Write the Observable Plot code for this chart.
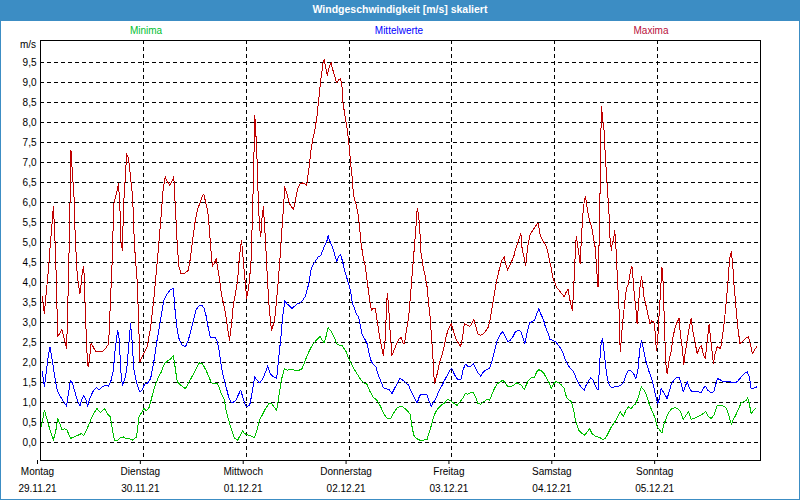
<!DOCTYPE html>
<html><head><meta charset="utf-8">
<script src="https://cdn.jsdelivr.net/npm/d3@7"></script>
<script src="https://cdn.jsdelivr.net/npm/@observablehq/plot@0.6"></script>
<style>
html,body{margin:0;padding:0;background:#fff;}
#wrap{position:relative;width:800px;height:500px;overflow:hidden;font-family:"Liberation Sans",Arial,sans-serif;background:#fff;}
#title{position:absolute;left:0;top:0;width:800px;height:21px;background:#3c8dc4;color:#fff;font-weight:bold;font-size:10.5px;line-height:19px;text-align:center;}
#border{position:absolute;left:0;top:0;width:800px;height:500px;box-sizing:border-box;border:1px solid #3c8dc4;pointer-events:none;}
.leg{position:absolute;top:25px;font-size:10px;line-height:12px;transform:translateX(-50%);white-space:nowrap;}
#unit{position:absolute;left:0;width:36px;text-align:right;top:39px;font-size:10px;line-height:12px;color:#000;}
#chart{position:absolute;left:0;top:20px;}
</style></head>
<body>
<div id="wrap">
  <div id="title"></div>
  <div id="unit"></div>
  <div id="legend"></div>
  <div id="chart"></div>
  <div id="border"></div>
</div>
<script>
const titleText = "Windgeschwindigkeit [m/s] skaliert";
const unitText = "m/s";
const legendLabels = ["Minima", "Mittelwerte", "Maxima"];
const legendColors = ["#00c030", "#0000ff", "#b8103c"];
const legendLeft = [146, 399, 651];
const dayNames = ["Montag","Dienstag","Mittwoch","Donnerstag","Freitag","Samstag","Sonntag"];
const dayDates = ["29.11.21","30.11.21","01.12.21","02.12.21","03.12.21","04.12.21","05.12.21"];
const dayTicks = [0, 24, 48, 72, 96, 120, 144];
const yTicks = [0,0.5,1,1.5,2,2.5,3,3.5,4,4.5,5,5.5,6,6.5,7,7.5,8,8.5,9,9.5];

// [hour since Monday 00:00, m/s]
const maxima = [[0.4,3.64],[0.9,3.22],[1.4,3.81],[1.9,4.39],[2.3,4.97],[2.7,5.47],[3.0,5.89],[3.3,5.3],[3.7,4.06],[4.0,2.64],[4.5,2.73],[5.0,2.82],[5.6,2.56],[6.1,2.35],[6.5,3.97],[6.8,5.47],[7.1,7.31],[7.3,6.97],[7.5,6.64],[7.8,6.22],[8.1,5.14],[8.6,4.14],[9.2,3.72],[9.5,3.97],[9.8,4.31],[10.1,4.39],[10.4,3.47],[10.8,2.31],[11.1,1.89],[11.4,2.06],[11.8,2.47],[12.3,2.39],[12.9,2.27],[13.6,2.27],[14.4,2.27],[15.2,2.35],[15.9,2.47],[16.3,3.47],[16.7,4.47],[17.1,5.97],[17.5,6.14],[17.9,6.31],[18.2,6.47],[18.5,5.97],[18.8,4.97],[19.1,4.81],[19.4,5.97],[19.8,6.64],[20.1,7.22],[20.4,7.14],[20.7,6.97],[21.0,6.64],[21.5,6.14],[21.9,4.97],[22.6,3.97],[23.2,2.02],[23.7,2.14],[24.3,2.27],[24.9,2.39],[25.7,2.89],[26.5,3.64],[27.2,4.47],[28.0,5.47],[28.6,6.31],[29.1,6.64],[29.6,6.52],[30.2,6.43],[30.8,6.56],[31.1,6.64],[31.5,5.81],[31.9,4.97],[32.3,4.39],[32.8,4.22],[33.8,4.24],
[34.5,4.31],[34.9,4.56],[35.4,4.97],[36.0,5.47],[36.6,5.81],[37.3,6.02],[37.7,6.14],[38.1,6.21],[38.5,6.02],[39.0,5.81],[39.3,5.47],[39.7,4.89],[40.1,4.41],[40.5,4.47],[41.0,4.6],[41.3,4.39],[41.8,4.06],[42.2,3.72],[42.7,3.47],[43.2,3.22],[43.6,2.89],[44.1,2.56],[44.6,2.97],[45.0,3.47],[45.5,3.72],[46.0,4.06],[46.4,4.64],[46.9,5.06],[47.2,4.72],[47.5,4.31],[47.8,3.97],[48.1,3.6],[48.6,3.89],[49.1,4.47],[49.4,5.47],[49.7,6.64],[50.0,8.18],[50.2,7.85],[50.5,7.14],[50.8,6.14],[51.1,5.39],[51.4,5.14],[51.7,5.64],[52.0,5.89],[52.3,5.39],[52.7,4.64],[53.0,3.97],[53.4,3.31],[53.9,2.81],[54.4,2.97],[54.8,3.22],[55.3,3.81],[55.8,4.47],[56.2,5.14],[56.7,5.89],[57.0,6.39],[57.5,6.22],[58.1,5.97],[58.6,5.89],[59.0,5.82],[59.5,6.06],[60.0,6.35],[60.6,6.47],[61.2,6.49],[61.7,6.46],[62.1,6.43],[62.6,6.81],[63.1,7.31],[63.5,7.56],[64.0,7.81],[64.5,8.14],[64.9,8.56],[65.4,9.06],[65.9,9.47],[66.2,9.57],[66.5,9.41],[66.9,9.18],[67.4,9.4],[67.8,9.5],
[68.1,9.35],[68.6,9.18],[69.1,8.99],[69.5,9.06],[70.0,9.1],[70.3,8.97],[70.6,8.47],[71.1,8.14],[71.6,7.81],[72.0,7.43],[72.3,7.06],[72.7,6.64],[73.0,6.22],[73.3,6.06],[73.7,5.93],[74.2,5.64],[74.5,5.31],[74.8,4.97],[75.3,4.64],[75.8,4.39],[76.2,4.06],[76.7,3.64],[77.2,3.31],[77.6,3.35],[78.1,3.35],[78.6,3.02],[79.0,2.72],[79.5,2.43],[80.0,2.18],[80.4,2.56],[80.9,3.72],[81.2,3.47],[81.5,2.89],[82.0,2.18],[82.5,2.31],[83.1,2.47],[83.7,2.6],[84.2,2.62],[84.6,2.49],[84.9,2.47],[85.4,2.81],[85.9,3.14],[86.3,3.64],[86.8,4.31],[87.3,4.97],[87.6,5.39],[87.9,5.85],[88.2,5.72],[88.5,5.31],[88.8,4.72],[89.3,4.39],[89.8,4.14],[90.2,3.89],[90.5,3.56],[90.9,3.14],[91.3,2.56],[91.6,2.06],[91.9,1.47],[92.4,1.64],[92.9,1.89],[93.3,2.06],[94.0,2.31],[94.6,2.64],[95.1,2.81],[95.5,2.89],[95.8,2.97],[96.3,2.81],[96.9,2.6],[98.0,2.39],[98.5,2.64],[98.9,2.97],[99.6,2.93],[100.2,2.9],[100.7,2.99],[101.1,3.07],[101.5,2.93],
[102.0,2.72],[102.6,2.68],[103.2,2.71],[103.8,2.77],[104.5,2.89],[104.9,3.06],[105.4,3.39],[105.9,3.72],[106.3,3.97],[106.8,4.22],[107.3,4.43],[107.7,4.56],[108.2,4.64],[108.5,4.47],[109.0,4.31],[109.4,4.41],[109.9,4.52],[110.4,4.64],[110.8,4.81],[111.3,4.97],[111.8,5.14],[112.1,5.22],[112.4,4.81],[112.9,4.6],[113.2,4.43],[113.5,4.72],[113.8,4.97],[114.3,5.22],[114.9,5.31],[115.5,5.41],[116.1,5.49],[116.6,5.18],[117.1,5.06],[117.7,4.97],[118.1,4.89],[118.6,4.64],[119.1,4.39],[119.5,4.14],[120.0,3.99],[120.5,3.87],[121.1,3.79],[121.7,3.71],[122.2,3.64],[122.7,3.77],[123.1,3.83],[123.6,3.52],[124.1,3.31],[124.4,3.81],[124.7,4.56],[125.0,5.14],[125.3,4.97],[125.6,4.72],[125.9,4.47],[126.2,5.06],[126.5,5.64],[126.9,6.06],[127.2,6.14],[127.6,5.81],[128.1,5.56],[128.6,5.39],[129.0,5.14],[129.4,4.89],[129.7,4.47],[130.0,3.97],[130.1,3.89],[130.3,4.81],[130.6,6.47],[130.7,7.47],[130.9,8.39],[131.2,8.06],[131.5,7.81],[131.8,7.14],[132.1,6.64],[132.5,5.97],[132.8,5.47],[132.9,5.06],[133.2,4.81],[133.4,4.97],[133.7,5.06],[134.0,5.31],[134.3,4.81],[134.6,4.14],[135.0,3.31],[135.2,2.47],[135.3,2.27],
[135.8,2.97],[136.3,3.47],[136.7,3.85],[137.2,3.97],[137.7,4.31],[138.0,4.41],[138.3,4.06],[138.6,3.64],[138.9,3.39],[139.2,2.97],[139.5,3.39],[139.8,3.81],[140.2,4.14],[140.5,3.97],[140.8,3.64],[141.2,3.47],[141.7,3.22],[142.2,2.97],[142.6,3.04],[143.1,3.02],[143.4,2.77],[143.7,2.31],[144.0,2.56],[144.4,3.31],[144.7,3.81],[145.0,4.39],[145.3,3.97],[145.6,2.89],[145.9,1.97],[146.2,1.72],[146.7,2.06],[147.2,2.31],[147.6,2.64],[148.1,2.89],[148.6,3.02],[149.0,3.1],[149.3,2.72],[149.8,2.31],[150.1,1.94],[150.4,2.22],[150.9,2.56],[151.4,2.89],[151.8,3.1],[152.3,2.72],[152.8,2.47],[153.2,2.22],[153.7,2.35],[154.2,2.43],[154.6,2.22],[155.1,2.1],[155.6,2.56],[156.0,2.96],[156.5,2.47],[157.0,1.97],[157.4,2.22],[157.9,2.39],[158.7,2.35],[159.1,2.64],[159.6,3.06],[160.1,3.64],[160.5,4.14],[160.8,4.6],[161.2,4.77],[161.5,4.47],[161.8,3.97],[162.2,3.47],[162.7,2.89],[163.2,2.47],[163.6,2.51],[164.1,2.56],[164.7,2.62],[165.2,2.64],[165.7,2.43],[166.1,2.22],[166.6,2.31],[167.1,2.39]];

const mittel = [[0.4,1.77],[0.9,1.39],[1.4,1.81],[1.9,2.22],[2.2,2.39],[2.6,2.14],[3.1,1.81],[3.6,1.47],[4.0,1.27],[4.7,1.14],[5.4,1.02],[6.1,0.91],[6.5,1.22],[7.0,1.56],[7.5,1.47],[7.9,1.31],[8.6,1.06],[9.2,0.91],[9.6,1.06],[10.1,1.18],[10.6,1.06],[11.0,0.91],[11.5,1.1],[12.0,1.22],[12.4,1.31],[13.1,1.37],[13.6,1.31],[14.4,1.39],[15.2,1.43],[15.9,1.41],[16.5,1.56],[17.0,1.81],[17.4,2.31],[17.7,2.56],[18.0,2.81],[18.4,2.56],[18.7,1.81],[19.1,1.43],[19.6,1.56],[20.1,1.81],[20.5,2.31],[21.0,2.97],[21.3,2.64],[21.8,1.81],[22.3,1.56],[22.7,1.39],[23.2,1.27],[23.7,1.31],[24.3,1.46],[24.9,1.47],[25.7,1.6],[26.5,2.06],[27.2,2.56],[28.0,3.06],[28.8,3.56],[29.6,3.72],[30.2,3.81],[31.0,3.85],[31.4,3.31],[31.9,2.81],[32.4,2.56],[33.1,2.43],[33.8,2.39],
[34.5,2.56],[35.1,2.81],[35.7,3.06],[36.3,3.31],[36.9,3.41],[37.7,3.43],[38.2,3.35],[38.7,3.14],[39.1,2.89],[39.6,2.64],[40.2,2.62],[40.8,2.62],[41.3,2.52],[41.8,2.22],[42.2,1.89],[42.7,1.64],[43.3,1.39],[43.9,1.14],[44.6,0.99],[45.2,1.02],[45.7,1.07],[46.1,1.18],[46.7,1.31],[47.2,1.14],[47.7,0.97],[48.1,0.89],[48.8,0.93],[49.2,1.14],[49.7,1.47],[50.0,1.64],[50.5,1.56],[51.1,1.49],[51.7,1.56],[52.2,1.68],[52.7,1.81],[53.0,1.93],[53.4,1.77],[53.9,1.68],[54.5,1.64],[55.1,1.6],[55.6,2.14],[56.1,2.64],[56.5,3.14],[57.0,3.54],[57.5,3.47],[58.1,3.41],[58.7,3.35],[59.3,3.41],[60.0,3.47],[60.6,3.49],[61.2,3.56],[61.7,3.64],[62.1,3.77],[62.6,3.97],[63.1,4.31],[63.5,4.43],[64.2,4.54],[64.8,4.64],[65.4,4.68],[65.9,4.81],[66.3,4.93],[66.8,5.02],[67.1,5.18],[67.4,5.06],
[68.1,4.89],[68.6,4.72],[69.1,4.52],[69.5,4.64],[70.0,4.71],[70.5,4.52],[70.9,4.31],[71.4,4.14],[71.9,3.97],[72.3,3.81],[72.8,3.47],[73.3,3.35],[73.7,3.22],[74.2,3.14],[74.7,2.89],[75.1,2.68],[75.8,2.56],[76.2,2.47],[76.7,2.22],[77.2,2.02],[77.6,1.96],[78.3,1.89],[78.7,1.72],[79.3,1.56],[80.0,1.37],[80.6,1.35],[81.4,1.32],[82.0,1.22],[82.6,1.35],[83.2,1.47],[83.9,1.6],[84.5,1.56],[85.3,1.49],[85.9,1.43],[86.5,1.27],[87.1,1.14],[87.9,0.99],[88.5,1.18],[89.1,1.21],[90.1,1.21],[90.7,1.02],[91.2,0.91],[91.8,1.02],[92.4,1.14],[93.0,1.29],[93.7,1.43],[94.3,1.56],[94.9,1.68],[95.5,1.81],[96.0,1.85],[96.5,1.72],[97.1,1.6],[97.7,1.56],[98.2,1.6],[98.6,1.81],[99.1,1.96],[99.7,1.91],[100.3,1.89],[101.0,1.97],[101.5,1.87],
[102.1,1.74],[102.7,1.66],[103.4,1.77],[104.0,1.82],[104.8,1.85],[105.4,2.06],[106.0,2.31],[106.6,2.56],[107.3,2.71],[107.9,2.77],[108.5,2.64],[109.1,2.52],[109.6,2.56],[110.2,2.64],[110.8,2.77],[111.5,2.81],[112.1,2.77],[112.5,2.64],[113.0,2.47],[113.5,2.72],[114.1,2.99],[114.7,3.02],[115.3,3.06],[115.8,3.22],[116.3,3.35],[116.7,3.22],[117.4,3.06],[117.8,2.89],[118.5,2.72],[118.9,2.57],[119.5,2.56],[120.2,2.52],[120.8,2.43],[121.4,2.35],[122.0,2.22],[122.5,2.06],[123.1,1.93],[123.7,1.85],[124.4,1.77],[125.0,1.6],[125.6,1.47],[126.2,1.37],[126.9,1.31],[127.3,1.43],[128.0,1.56],[128.4,1.62],[128.9,1.56],[129.4,1.43],[129.8,1.35],[130.1,1.31],[130.4,1.81],[130.7,2.39],[131.1,2.6],[131.4,2.39],[131.8,1.97],[132.3,1.56],[132.8,1.43],[133.2,1.37],[133.9,1.39],[134.5,1.39],[135.3,1.43],
[136.0,1.49],[136.6,1.68],[137.2,1.81],[137.8,1.79],[138.4,1.72],[138.9,1.6],[139.4,1.81],[139.8,2.31],[140.2,2.54],[140.5,2.43],[140.9,2.22],[141.4,1.97],[142.0,1.77],[142.6,1.6],[143.1,1.39],[143.6,1.14],[144.0,0.97],[144.4,1.1],[144.8,1.35],[145.3,1.27],[145.8,1.18],[146.2,1.1],[146.7,1.27],[147.2,1.47],[147.8,1.56],[148.4,1.62],[149.0,1.62],[149.5,1.47],[150.0,1.27],[150.4,1.39],[150.9,1.52],[151.4,1.35],[152.0,1.27],[152.8,1.27],[153.5,1.27],[154.2,1.24],[154.6,1.35],[155.1,1.41],[155.7,1.31],[156.5,1.24],[157.1,1.27],[157.6,1.47],[158.0,1.6],[158.7,1.56],[159.4,1.52],[160.7,1.52],[161.9,1.49],[162.6,1.52],[163.2,1.6],[163.8,1.68],[164.4,1.74],[164.9,1.77],[165.4,1.64],[165.8,1.35],[166.3,1.35],[167.1,1.39]];

const minima = [[0.2,0.39],[0.9,0.81],[1.6,0.56],[2.2,0.31],[3.0,0.06],[3.6,0.31],[4.0,0.6],[4.5,0.47],[5.0,0.31],[5.6,0.35],[6.2,0.31],[7.0,0.1],[7.8,0.14],[8.7,0.18],[9.5,0.22],[10.1,0.18],[10.9,0.35],[11.7,0.56],[12.4,0.72],[13.2,0.85],[14.0,0.74],[14.9,0.85],[15.6,0.72],[16.3,0.64],[16.8,0.31],[17.3,0.04],[18.0,0.06],[18.7,0.12],[19.3,0.14],[19.9,0.1],[20.7,0.1],[21.5,0.06],[22.4,0.14],[23.0,0.64],[23.7,0.77],[24.1,0.85],[24.7,0.79],[25.4,0.89],[26.0,1.14],[26.6,1.39],[27.4,1.6],[28.2,1.77],[28.9,1.97],[29.7,2.04],[30.5,2.1],[31.0,2.18],[31.4,1.89],[31.9,1.52],[32.7,1.43],[33.8,1.35],
[34.5,1.47],[35.1,1.6],[35.7,1.71],[36.2,1.81],[36.6,1.91],[37.1,1.99],[37.7,1.97],[38.2,1.89],[38.7,1.79],[39.3,1.64],[39.9,1.49],[40.7,1.47],[41.3,1.47],[41.8,1.35],[42.2,1.22],[42.9,1.06],[43.3,0.81],[43.9,0.56],[44.6,0.31],[45.2,0.12],[46.0,0.06],[46.6,0.18],[47.1,0.29],[47.7,0.22],[48.5,0.18],[49.1,0.16],[49.9,0.12],[50.5,0.31],[51.1,0.56],[51.9,0.72],[52.5,0.85],[53.3,0.97],[53.9,0.97],[54.5,0.89],[55.1,0.79],[55.6,1.14],[56.2,1.56],[56.9,1.85],[57.6,1.81],[58.4,1.82],[59.3,1.81],[60.3,1.81],[60.9,1.82],[61.5,1.97],[62.1,2.14],[62.8,2.31],[63.4,2.43],[64.2,2.54],[64.8,2.6],[65.3,2.66],[65.7,2.56],[66.2,2.49],[66.7,2.68],[67.1,2.87],[67.7,2.8],
[68.1,2.72],[68.6,2.62],[69.1,2.47],[69.7,2.43],[70.3,2.43],[70.8,2.35],[71.3,2.27],[71.9,2.1],[72.5,1.97],[73.3,1.81],[74.1,1.68],[74.8,1.56],[75.5,1.49],[76.1,1.47],[76.9,1.27],[77.6,1.14],[78.6,1.04],[79.3,0.91],[80.1,0.72],[80.9,0.6],[81.7,0.6],[82.3,0.72],[83.1,0.85],[83.9,0.91],[84.6,0.89],[85.4,0.81],[86.2,0.72],[86.7,0.39],[87.1,0.18],[87.7,0.1],[88.5,0.06],[89.5,0.06],[90.2,0.08],[90.9,0.31],[91.5,0.56],[92.1,0.74],[92.7,0.85],[93.5,0.93],[94.3,0.99],[94.9,1.07],[95.4,1.06],[96.0,1.02],[96.6,0.97],[97.2,0.93],[97.9,1.02],[98.5,1.1],[99.1,1.22],[99.7,1.21],[100.3,1.24],[101.0,1.24],[101.5,1.14],
[102.1,0.97],[102.7,0.96],[103.4,1.02],[104.1,1.07],[104.8,1.06],[105.4,1.22],[106.0,1.37],[106.6,1.47],[107.3,1.52],[107.9,1.56],[108.5,1.47],[109.1,1.39],[109.7,1.39],[110.4,1.43],[111.0,1.49],[111.6,1.47],[112.2,1.43],[112.9,1.32],[113.3,1.43],[113.9,1.56],[114.6,1.62],[115.2,1.62],[115.8,1.77],[116.3,1.82],[116.9,1.79],[117.5,1.72],[118.1,1.6],[118.8,1.47],[119.2,1.35],[119.7,1.47],[120.3,1.52],[121.0,1.49],[121.6,1.43],[122.2,1.35],[122.7,1.14],[123.3,1.06],[123.9,1.02],[124.4,0.81],[124.8,0.56],[125.6,0.31],[126.2,0.24],[127.0,0.18],[127.6,0.27],[128.1,0.35],[128.7,0.22],[129.4,0.16],[130.0,0.14],[130.6,0.12],[131.2,0.07],[131.8,0.1],[132.5,0.24],[133.1,0.37],[133.7,0.47],[134.3,0.56],[134.8,0.68],[135.3,0.77],
[136.0,0.64],[136.6,0.81],[137.2,0.89],[137.8,0.85],[138.4,0.93],[138.9,0.97],[139.5,1.14],[140.2,1.39],[140.8,1.31],[141.4,1.18],[142.0,0.97],[142.6,0.81],[143.3,0.64],[143.9,0.39],[144.5,0.31],[145.0,0.24],[145.4,0.43],[146.1,0.64],[146.7,0.77],[147.3,0.85],[148.1,0.87],[148.7,0.85],[149.3,0.77],[150.0,0.58],[150.6,0.68],[151.2,0.77],[151.8,0.58],[152.4,0.6],[153.2,0.64],[154.0,0.68],[154.6,0.72],[155.2,0.77],[155.9,0.64],[156.5,0.6],[157.1,0.68],[157.9,0.93],[158.7,0.93],[159.4,0.91],[160.1,0.85],[160.7,0.64],[161.2,0.45],[161.6,0.56],[162.2,0.68],[162.9,0.85],[163.5,0.99],[164.1,1.02],[164.7,1.06],[165.0,1.12],[165.4,0.97],[165.8,0.72],[166.3,0.79],[166.9,0.85]];

const lineColors = {minima: "#00c000", mittel: "#0000ff", maxima: "#c00000"};

document.getElementById("title").textContent = titleText;
document.getElementById("unit").textContent = unitText;
const legend = document.getElementById("legend");
legendLabels.forEach((t, i) => {
  const s = document.createElement("span");
  s.className = "leg";
  s.textContent = t;
  s.style.color = legendColors[i];
  s.style.left = legendLeft[i] + "px";
  legend.appendChild(s);
});

const toRows = arr => arr.map(([h, v]) => ({h, v}));
const fmtY = d => d.toFixed(1).replace(".", ",");
const dash = "4,3";

const chart = Plot.plot({
  width: 800,
  height: 480,
  marginLeft: 40,
  marginRight: 40,
  marginTop: 20,
  marginBottom: 40,
  x: {type: "linear", domain: [0, 168], axis: null, label: null},
  y: {type: "linear", domain: [-0.45, 10.05], axis: null, label: null},
  style: {fontFamily: "'Liberation Sans', Arial, sans-serif", fontSize: "10px", color: "#000", background: "transparent", overflow: "visible"},
  marks: [
    Plot.gridY(yTicks, {stroke: "#000", strokeOpacity: 1, strokeDasharray: dash, shapeRendering: "crispEdges"}),
    Plot.gridX(dayTicks.slice(1), {stroke: "#000", strokeOpacity: 1, strokeDasharray: dash, shapeRendering: "crispEdges"}),
    Plot.axisY(yTicks, {anchor: "left", label: null, tickSize: 0, tickPadding: 4, tickFormat: fmtY, fill: "#000"}),
    Plot.axisX(dayTicks, {anchor: "bottom", label: null, tickSize: 4, tickPadding: 3, dx: -3, tickFormat: d => dayNames[d / 24], fill: "#000", stroke: "#000"}),
    Plot.axisX(dayTicks, {anchor: "bottom", label: null, tickSize: 0, tickPadding: 24, dx: -3, tickFormat: d => dayDates[d / 24], fill: "#000"}),
    Plot.line(toRows(minima), {x: "h", y: "v", stroke: lineColors.minima, strokeWidth: 1, shapeRendering: "crispEdges"}),
    Plot.line(toRows(mittel), {x: "h", y: "v", stroke: lineColors.mittel, strokeWidth: 1, shapeRendering: "crispEdges"}),
    Plot.line(toRows(maxima), {x: "h", y: "v", stroke: lineColors.maxima, strokeWidth: 1, shapeRendering: "crispEdges"}),
    Plot.frame({stroke: "#000", strokeWidth: 1})
  ]
});
document.getElementById("chart").appendChild(chart);
</script>
</body></html>
